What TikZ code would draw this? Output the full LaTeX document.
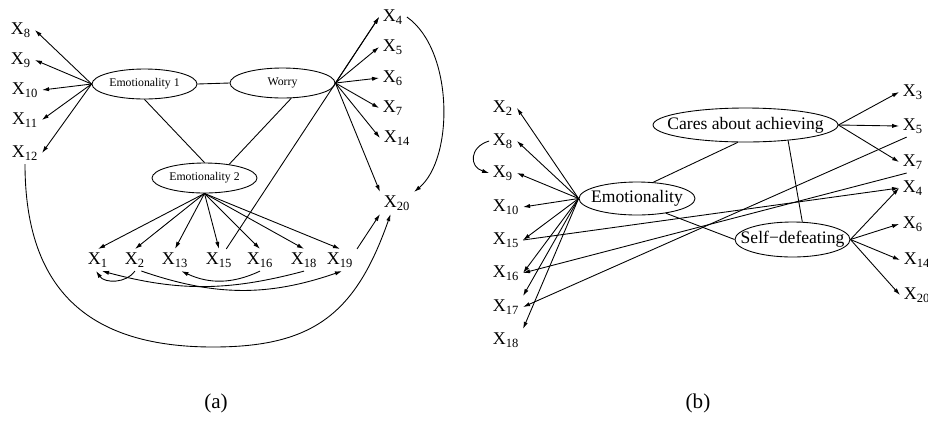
\documentclass[tikz,border=0pt]{standalone}
\usepackage{fontspec}
\setmainfont{Liberation Serif}
\usetikzlibrary{shapes.geometric,arrows.meta}

\begin{document}
\begin{tikzpicture}[x=0.02cm,y=-0.02cm,
  var/.style={inner sep=2pt,font=\fontsize{10.2}{12}\selectfont},
  lat/.style={draw,ellipse,inner sep=0pt,line width=0.5pt},
  small/.style={font=\fontsize{6.7}{8}\selectfont},
  large/.style={font=\fontsize{10}{12}\selectfont},
  link/.style={line width=0.5pt},
  arr/.style={link,-{Latex[length=4pt,width=2.4pt]}}]

\useasboundingbox (0,0) rectangle (928,430);

%% latent variables (a)
\node[lat,minimum width=2.1cm,minimum height=0.6cm,label={[small]center:Emotionality 1}] (emoOne) at (144.5,84) {};
\node[lat,minimum width=2.1cm,minimum height=0.6cm,label={[small]center:Worry}] (worry) at (282.5,83) {};
\node[lat,minimum width=2.1cm,minimum height=0.6cm,label={[small]center:Emotionality 2}] (emoTwo) at (204.5,178) {};

%% items (a)
\node[var] (a8)  at (21,30)   {X\textsubscript{8}};
\node[var] (a9)  at (21,60)   {X\textsubscript{9}};
\node[var] (a10) at (25,90)   {X\textsubscript{10}};
\node[var] (a11) at (25,120)  {X\textsubscript{11}};
\node[var] (a12) at (25,153)  {X\textsubscript{12}};
\node[var] (a4)  at (393,17)  {X\textsubscript{4}};
\node[var] (a5)  at (393,47)  {X\textsubscript{5}};
\node[var] (a6)  at (393,78)  {X\textsubscript{6}};
\node[var] (a7)  at (393,108) {X\textsubscript{7}};
\node[var] (a14) at (397,138) {X\textsubscript{14}};
\node[var] (a20) at (397,203) {X\textsubscript{20}};
\node[var] (a1)  at (98,260)  {X\textsubscript{1}};
\node[var] (a2)  at (135,260) {X\textsubscript{2}};
\node[var] (a13) at (175,260) {X\textsubscript{13}};
\node[var] (a15) at (219,260) {X\textsubscript{15}};
\node[var] (a16) at (260,260) {X\textsubscript{16}};
\node[var] (a18) at (304,260) {X\textsubscript{18}};
\node[var] (a19) at (340,260) {X\textsubscript{19}};

%% factor links (a)
\draw[link] (emoOne.east) -- (worry.west);
\draw[link] (emoOne.south) -- (emoTwo.north);
\draw[link] (worry.-60) -- (emoTwo.29);

%% loadings (a)
\draw[arr] (emoOne.west) -- (a8.east);
\draw[arr] (emoOne.west) -- (a9.east);
\draw[arr] (emoOne.west) -- (a10.east);
\draw[arr] (emoOne.west) -- (a11.east);
\draw[arr] (emoOne.west) -- (a12.east);
\draw[arr] (worry.east) -- (a4.west);
\draw[arr] (worry.east) -- (a5.west);
\draw[arr] (worry.east) -- (a6.west);
\draw[arr] (worry.east) -- (a7.west);
\draw[arr] (worry.east) -- (a14.west);
\draw[arr] (worry.east) -- (a20.north west);
\draw[arr] (emoTwo.south) -- (a1.north);
\draw[arr] (emoTwo.south) -- (a2.north);
\draw[arr] (emoTwo.south) -- (a13.north);
\draw[arr] (emoTwo.south) -- (a15.north);
\draw[arr] (emoTwo.south) -- (a16.north);
\draw[arr] (emoTwo.south) -- (a18.north);
\draw[arr] (emoTwo.south) -- (a19.north);

%% item to item (a)
\draw[arr] (a15) -- (a4.west);
\draw[arr] (a19.north east) -- (a20.south west);
\draw[arr] (a4.east) .. controls +(47,33) and +(40,-33) .. (a20.north east);
\draw[arr] (a12.south) .. controls +(0,130) and +(-120,0) .. (213,347)
                       .. controls +(100,0) and +(-35,100) .. (a20.-120);
\draw[arr] (a2.south) to[bend left=55] (a1.-100);
\draw[arr] (a16.south) to[bend left=25] (a13.-60);
\draw[arr] (a2.-60) to[bend right=19] (a19.-80);
\draw[arr] (a18.south) to[bend left=15] (a1.-70);

%% latent variables (b)
\node[lat,minimum width=2.32cm,minimum height=0.66cm,label={[large]center:Emotionality}] (emo) at (637,198.5) {};
\node[lat,minimum width=3.7cm,minimum height=0.68cm,label={[large]center:Cares about achieving}] (cares) at (745.5,125) {};
\node[lat,minimum width=2.3cm,minimum height=0.7cm,label={[large]center:Self−defeating}] (selfdef) at (792.5,239.5) {};

%% items (b)
\node[var] (b2)  at (503,108) {X\textsubscript{2}};
\node[var] (b8)  at (503,141) {X\textsubscript{8}};
\node[var] (b9)  at (503,173) {X\textsubscript{9}};
\node[var] (b10) at (506,207) {X\textsubscript{10}};
\node[var] (b15) at (506,240) {X\textsubscript{15}};
\node[var] (b16) at (506,273) {X\textsubscript{16}};
\node[var] (b17) at (506,307) {X\textsubscript{17}};
\node[var] (b18) at (506,340) {X\textsubscript{18}};
\node[var] (b3)  at (913,92)  {X\textsubscript{3}};
\node[var] (b5)  at (913,126) {X\textsubscript{5}};
\node[var] (b7)  at (913,162) {X\textsubscript{7}};
\node[var] (b4)  at (913,188) {X\textsubscript{4}};
\node[var] (b6)  at (913,224) {X\textsubscript{6}};
\node[var] (b14) at (917,260) {X\textsubscript{14}};
\node[var] (b20) at (917,295) {X\textsubscript{20}};

%% factor links (b)
\draw[link] (emo.45) -- (cares.-114);
\draw[link] (cares.-20) -- (selfdef.61);
\draw[link] (emo.-27) -- (selfdef.west);

%% loadings (b)
\draw[arr] (emo.west) -- (b2.east);
\draw[arr] (emo.west) -- (b8.east);
\draw[arr] (emo.west) -- (b9.east);
\draw[arr] (emo.west) -- (b10.east);
\draw[arr] (emo.west) -- (b15.east);
\draw[arr] (emo.west) -- (b16.east);
\draw[arr] (emo.west) -- (b17.north east);
\draw[arr] (emo.west) -- (b18.north east);
\draw[arr] (cares.east) -- (b3.west);
\draw[arr] (cares.east) -- (b5.west);
\draw[arr] (cares.east) -- (b7.west);
\draw[arr] (selfdef.east) -- (b4.west);
\draw[arr] (selfdef.east) -- (b6.west);
\draw[arr] (selfdef.east) -- (b14.west);
\draw[arr] (selfdef.east) -- (b20.west);

%% item to item (b)
\draw[arr] (b8.west) .. controls +(-20,6) and +(-20,-6) .. (b9.west);
\draw[arr] (b15.east) -- (b4.west);
\draw[arr] (b7.-120) -- (b16.east);
\draw[arr] (b5.-120) -- (b17.east);

%% captions
\node[font=\fontsize{12}{14}\selectfont] (capA) at (216,403) {(a)};
\node[font=\fontsize{12}{14}\selectfont] (capB) at (698,403) {(b)};

\end{tikzpicture}
\end{document}
